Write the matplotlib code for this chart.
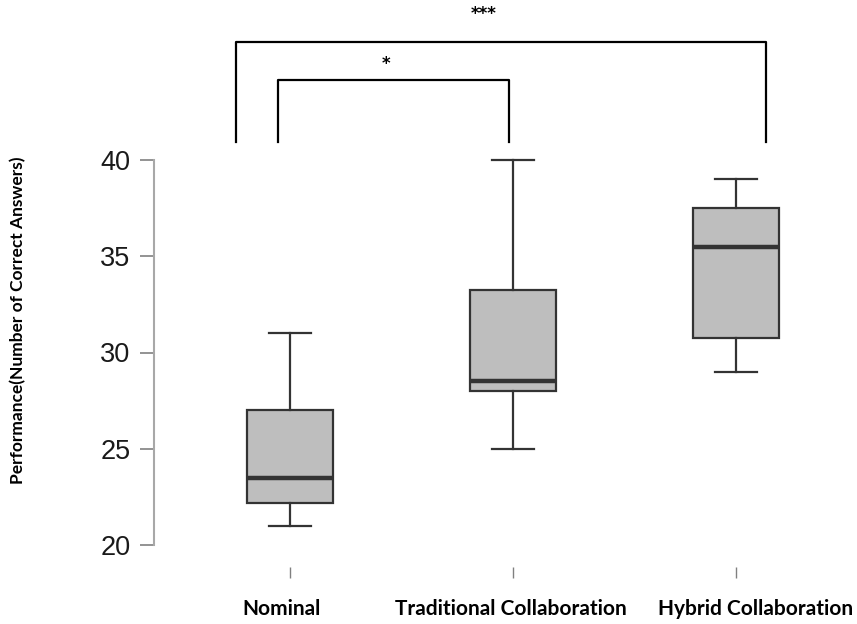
import matplotlib
matplotlib.use("Agg")
import matplotlib.pyplot as plt
import matplotlib.transforms as mtransforms

categories = ["Nominal", "Traditional Collaboration", "Hybrid Collaboration"]
whisker_low = [21, 25, 29]
q1 = [22.2, 28.0, 30.75]
median = [23.5, 28.5, 35.5]
q3 = [27.0, 33.25, 37.5]
whisker_high = [31, 40, 39]
yticks = [20, 25, 30, 35, 40]
ylabel = "Performance(Number of Correct Answers)"

# significance brackets: (x_left, x_right, y_top, label)
brackets = [(0.758, 3.135, 46.13, "***"), (0.946, 1.98, 44.16, "*")]
bracket_bottom = 40.94

fig = plt.figure(figsize=(8.57, 6.24), dpi=100)
ax = fig.add_axes([154/857, 1-545/624, (848-154)/857, 385/624])

stats = []
for i, c in enumerate(categories):
    stats.append(dict(label=c, whislo=whisker_low[i], q1=q1[i], med=median[i],
                      q3=q3[i], whishi=whisker_high[i], fliers=[]))
edge = "#333333"
bp = ax.bxp(stats, positions=[1, 2, 3], widths=0.39, patch_artist=True,
            showfliers=False,
            boxprops=dict(facecolor="#bebebe", edgecolor=edge, linewidth=1.6),
            medianprops=dict(color=edge, linewidth=3.2, solid_capstyle="butt"),
            whiskerprops=dict(color=edge, linewidth=1.6, linestyle="-"),
            capprops=dict(color=edge, linewidth=1.6),
            capwidths=0.19)
for k in bp:
    for a in bp[k]:
        a.set_clip_on(False)

ax.set_xlim(1 - 136/223, 1 - 136/223 + (848-154)/223)
ax.set_ylim(20, 40)

for s in ["top", "right"]:
    ax.spines[s].set_visible(False)
ax.spines["left"].set_color("#a8a8a8")
ax.spines["left"].set_linewidth(1.5)
ax.spines["bottom"].set_position(("outward", 16))
ax.spines["bottom"].set_visible(False)

ax.set_yticks(yticks)
ax.set_yticklabels([str(v) for v in yticks], fontsize=19.5, family="Liberation Sans", color="#1a1a1a")
ax.tick_params(axis="y", direction="out", length=10, width=1.2, color="#808080", pad=7)

ax.set_xticks([1, 2, 3])
ax.set_xticklabels(categories, fontsize=15, family="Lato", fontweight="bold")
ax.tick_params(axis="x", direction="out", length=8, width=1.0, color="#808080", pad=15)

# small horizontal shifts of the category labels (pixels), as in the original
label_shift = [-8, -2, 20]
for lab, dx in zip(ax.get_xticklabels(), label_shift):
    lab.set_transform(lab.get_transform() + mtransforms.ScaledTranslation(dx/100, 0, fig.dpi_scale_trans))

fig.text(18/857, 1-320/624, ylabel, rotation=90, ha="center", va="center",
         fontsize=12.5, fontweight="bold", family="Lato")

for xl, xr, yt, lab in brackets:
    ax.plot([xl, xl, xr, xr], [bracket_bottom, yt, yt, bracket_bottom],
            color="black", linewidth=1.6, clip_on=False)

ax.text(1.87, 47.6, "***", ha="center", va="center", fontsize=12, fontweight="bold")
ax.text(1.43, 45.0, "*", ha="center", va="center", fontsize=12, fontweight="bold")

fig.savefig("out.png", dpi=100)
